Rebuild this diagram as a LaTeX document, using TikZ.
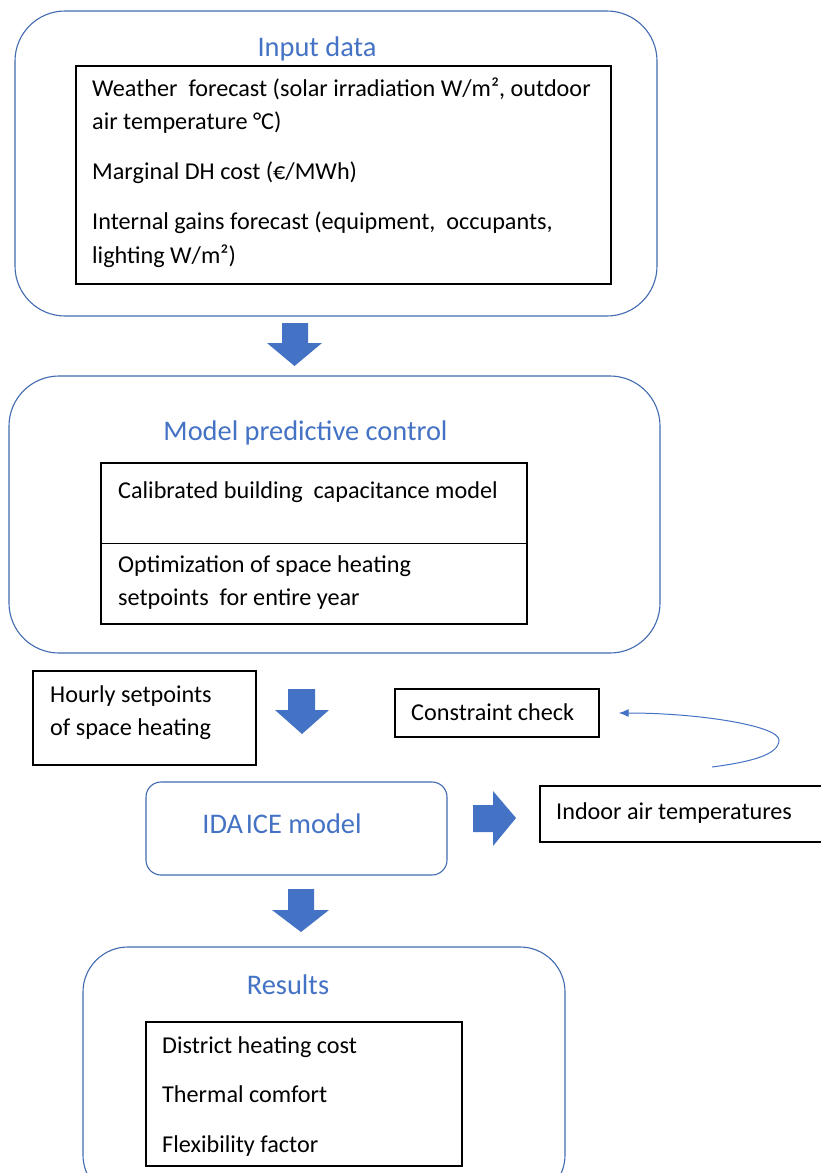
\documentclass[tikz,border=0pt]{standalone}
\usepackage{fontspec}
\setmainfont{Carlito}
\usetikzlibrary{arrows.meta}
\definecolor{oline}{RGB}{66,106,176}
\definecolor{oblue}{RGB}{68,114,196}
\definecolor{tblue}{RGB}{68,114,196}
\begin{document}
\begin{tikzpicture}[x=1pt,y=-1pt,
  outerbox/.style={draw=oline, line width=1.1pt, rectangle, rounded corners=#1, inner sep=0pt},
  innerbox/.style={draw=black, line width=1.4pt, rectangle, inner sep=0pt},
  body/.style={inner sep=0pt, anchor=base west, font=\fontsize{24.2pt}{33pt}\selectfont},
  title/.style={inner sep=0pt, anchor=base, text=tblue, font=\fontsize{28.4pt}{34pt}\selectfont},
  blockarrow/.style={fill=oblue, draw=none},
  loop/.style={draw=oblue, line width=1pt, -{Latex[length=10pt,width=8pt]}}
]
\useasboundingbox (0,0) rectangle (821,1173);
\fill[white] (0,0) rectangle (821,1173);
\begin{scope}
\clip (0,0) rectangle (821,1173);

% Input data
\node[outerbox=50pt, minimum width=642pt, minimum height=305pt] (input) at (336,163.5) {};
\node[title] (inputT) at (317,56) {Input data};
\node[innerbox, minimum width=535pt, minimum height=218pt] (inputB) at (343.5,175) {};
\node[body] (i1) at (92,96) {Weather\ \ forecast (solar irradiation W/m², outdoor};
\node[body] (i2) at (92,129) {air temperature °C)};
\node[body] (i3) at (92,179) {Marginal DH cost (€/MWh)};
\node[body] (i4) at (92,229) {Internal gains forecast (equipment,\ \ occupants,};
\node[body] (i5) at (92,263) {lighting W/m²)};

% arrow 1
\fill[blockarrow] (282,323) -- (308,323) -- (308,343) -- (322,343) -- (294.5,366) -- (267,343) -- (282,343) -- cycle;

% MPC
\node[outerbox=50pt, minimum width=651pt, minimum height=277pt] (mpc) at (334.5,514.5) {};
\node[title] (mpcT) at (305.5,440) {Model predictive control};
\node[innerbox, minimum width=426pt, minimum height=161pt] (mpcB) at (314,543.5) {};
\draw[line width=1.4pt] (mpcB.west) -- (mpcB.east);
\node[body] (m1) at (118,498) {Calibrated building\ \ capacitance model};
\node[body] (m2) at (118,572) {Optimization of space heating};
\node[body] (m3) at (118,605) {setpoints\ \ for entire year};

% Hourly setpoints
\node[innerbox, minimum width=223pt, minimum height=94pt] (hourly) at (144.5,718) {};
\node[body] (h1) at (50,702) {Hourly setpoints};
\node[body] (h2) at (50,735) {of space heating};

% arrow 2
\fill[blockarrow] (288,689) -- (315,689) -- (315,710) -- (329,710) -- (302,734) -- (275,710) -- (288,710) -- cycle;

% Constraint check
\node[innerbox, minimum width=204pt, minimum height=48pt] (cc) at (497,713) {};
\node[body] (c1) at (411,720) {Constraint check};

% loop arrow
\coordinate (loopstart) at (712,767);
\coordinate (loopend) at ([xshift=19pt]cc.east);
\draw[loop] (loopstart) .. controls (750,762) and (779,755) .. (779,740)
  .. controls (779,726) and (700,713) .. (loopend);

% IDA ICE
\node[outerbox=15pt, minimum width=301pt, minimum height=93pt] (ida) at (296.5,828.5) {};
\node[title] (idaT) at (282,833) {IDA\hspace{0.1em}ICE model};

% arrow 3
\fill[blockarrow] (473,805) -- (493,805) -- (493,791) -- (516,818) -- (493,846) -- (493,832) -- (473,832) -- cycle;

% Indoor air temperatures
\node[innerbox, minimum width=290pt, minimum height=56pt] (indoor) at (685,814) {};
\node[body] (t1) at (556,819) {Indoor air temperatures};

% arrow 4
\fill[blockarrow] (288,889) -- (314,889) -- (314,910) -- (329,910) -- (301,932) -- (272,910) -- (288,910) -- cycle;

% Results
\node[outerbox=45pt, minimum width=482pt, minimum height=253pt] (results) at (324,1073.5) {};
\node[title] (resT) at (288,994) {Results};
\node[innerbox, minimum width=316pt, minimum height=144pt] (resB) at (304,1094) {};
\node[body] (r1) at (162,1053) {District heating cost};
\node[body] (r2) at (162,1102) {Thermal comfort};
\node[body] (r3) at (162,1152) {Flexibility factor};
\end{scope}
\end{tikzpicture}
\end{document}
